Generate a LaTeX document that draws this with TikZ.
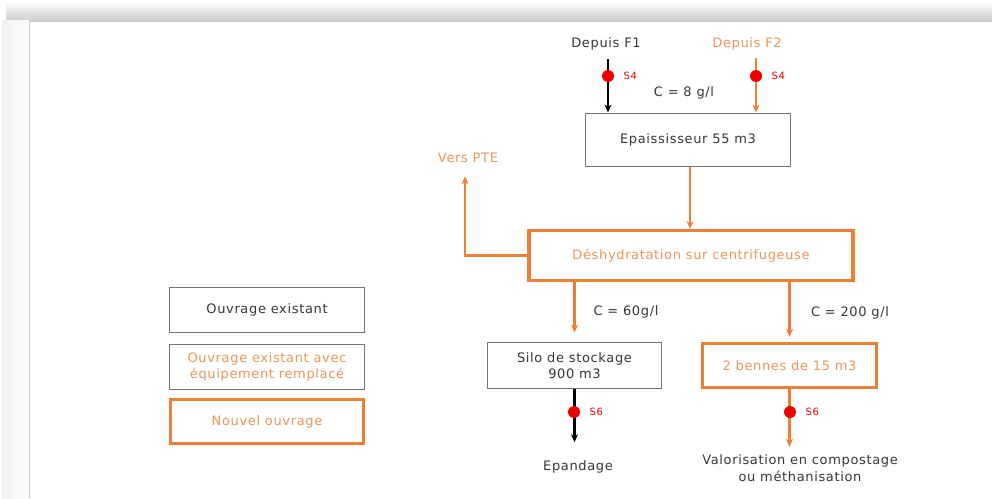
\documentclass[tikz,border=0pt]{standalone}
\usepackage{fontspec}
\setmainfont{DejaVu Sans}[LetterSpace=5]
\usetikzlibrary
  {
    positioning,   % place nodes relative to other nodes
    arrows.meta,   % arrow tips
    calc,
  }

\definecolor{flowOrange}{RGB}{237,128,52}
\definecolor{textOrange}{RGB}{240,148,88}
\definecolor{boxGray}{RGB}{115,115,115}
\definecolor{textGray}{RGB}{55,55,55}
\definecolor{pointRed}{RGB}{242,0,0}

\tikzset{
  existing/.style = {draw=boxGray, line width=1.9pt, fill=white, align=center,
                     text=textGray, font=\fontsize{13}{16}\selectfont, inner sep=2pt},
  replaced/.style = {existing, text=textOrange},
  newwork/.style  = {existing, draw=flowOrange, line width=3.2pt, text=textOrange},
  flow/.style     = {draw=flowOrange, line width=2.2pt, -{Stealth[length=8pt,width=7pt]}},
  blackflow/.style= {flow, draw=black},
  sample/.style   = {circle, fill=pointRed, inner sep=0pt, minimum size=12pt},
  samplename/.style = {text=pointRed, font=\fontsize{10}{10}\selectfont},
  remark/.style   = {text=textGray, font=\fontsize{13}{16}\selectfont, align=center},
  remarkorange/.style = {remark, text=textOrange},
}

\begin{document}
\begin{tikzpicture}[x=1pt, y=-1pt]
  \useasboundingbox (0,0) rectangle (992,498);

  % page and its shadow
  \fill[white] (0,0) rectangle (992,498);
  \shade[top color=white, bottom color=gray!38] (6,1) rectangle (992,20);
  \shade[left color=gray!10, right color=gray!3] (2,20) rectangle (29,498);
  \draw[gray!40, line width=1pt] (29,498) -- (29,21) -- (992,21);

  % main line
  \node[remark] (from1) at (606,44) {Depuis F1};
  \node[remarkorange] (from2) at (747,44) {Depuis F2};
  \coordinate (in1) at (608,59);
  \coordinate (in2) at (756,58);

  \node[existing, minimum width=205pt, minimum height=53pt] (thick) at (688,140) {Epaississeur 55 m3};
  \node[newwork, minimum width=324pt, minimum height=50pt] (dehyd) at (691,255.5) {Déshydratation sur centrifugeuse};
  \node[existing, minimum width=174pt, minimum height=46pt] (silo) at (574.5,365.5) {Silo de stockage\\900 m3};
  \node[newwork, minimum width=174pt, minimum height=44pt] (skips) at (789.5,365.5) {2 bennes de 15 m3};

  \node[remark] (conc8) at (684,93) {C = 8 g/l};
  \node[remark] (conc60) at (626,312) {C = 60g/l};
  \node[remark] (conc200) at (850,313) {C = 200 g/l};

  \node[remarkorange] (pte) at (468,158) {Vers PTE};
  \node[remark] (spread) at (578,467) {Epandage};
  \node[remark, font=\fontsize{13}{17}\selectfont] (compost) at (800,468) {Valorisation en compostage\\ou méthanisation};

  % flows
  \draw[blackflow] (in1) -- (thick.north -| in1);
  \draw[flow] (in2) -- (thick.north -| in2);
  \draw[flow] (thick.south -| 690,0) -- (dehyd.north -| 690,0);
  \draw[flow, shorten >=10pt] (dehyd.west) -| (pte.south -| 465,0);
  \draw[flow, shorten >=9pt] (dehyd.south -| silo.north) -- (silo.north);
  \draw[flow, shorten >=5pt] (dehyd.south -| skips.north) -- (skips.north);
  \draw[blackflow, shorten >=15pt] (silo.south) -- (spread.north -| silo.south);
  \draw[flow, shorten >=4pt] (skips.south) -- (compost.north -| skips.south);

  % sampling points
  \node[sample] (s4a) at (608,76) {};
  \node[samplename, right=6pt of s4a] {S4};
  \node[sample] (s4b) at (756,76) {};
  \node[samplename, right=6pt of s4b] {S4};
  \node[sample] (s6a) at (574,412) {};
  \node[samplename, right=6pt of s6a] {S6};
  \node[sample] (s6b) at (790,412) {};
  \node[samplename, right=6pt of s6b] {S6};

  % legend
  \node[existing, minimum width=195pt, minimum height=45pt] (legold) at (267,310) {Ouvrage existant};
  \node[replaced, minimum width=195pt, minimum height=45pt] (legrep) at (267,367) {Ouvrage existant avec\\équipement remplacé};
  \node[newwork, minimum width=193pt, minimum height=44pt] (legnew) at (267,421.5) {Nouvel ouvrage};
\end{tikzpicture}
\end{document}
